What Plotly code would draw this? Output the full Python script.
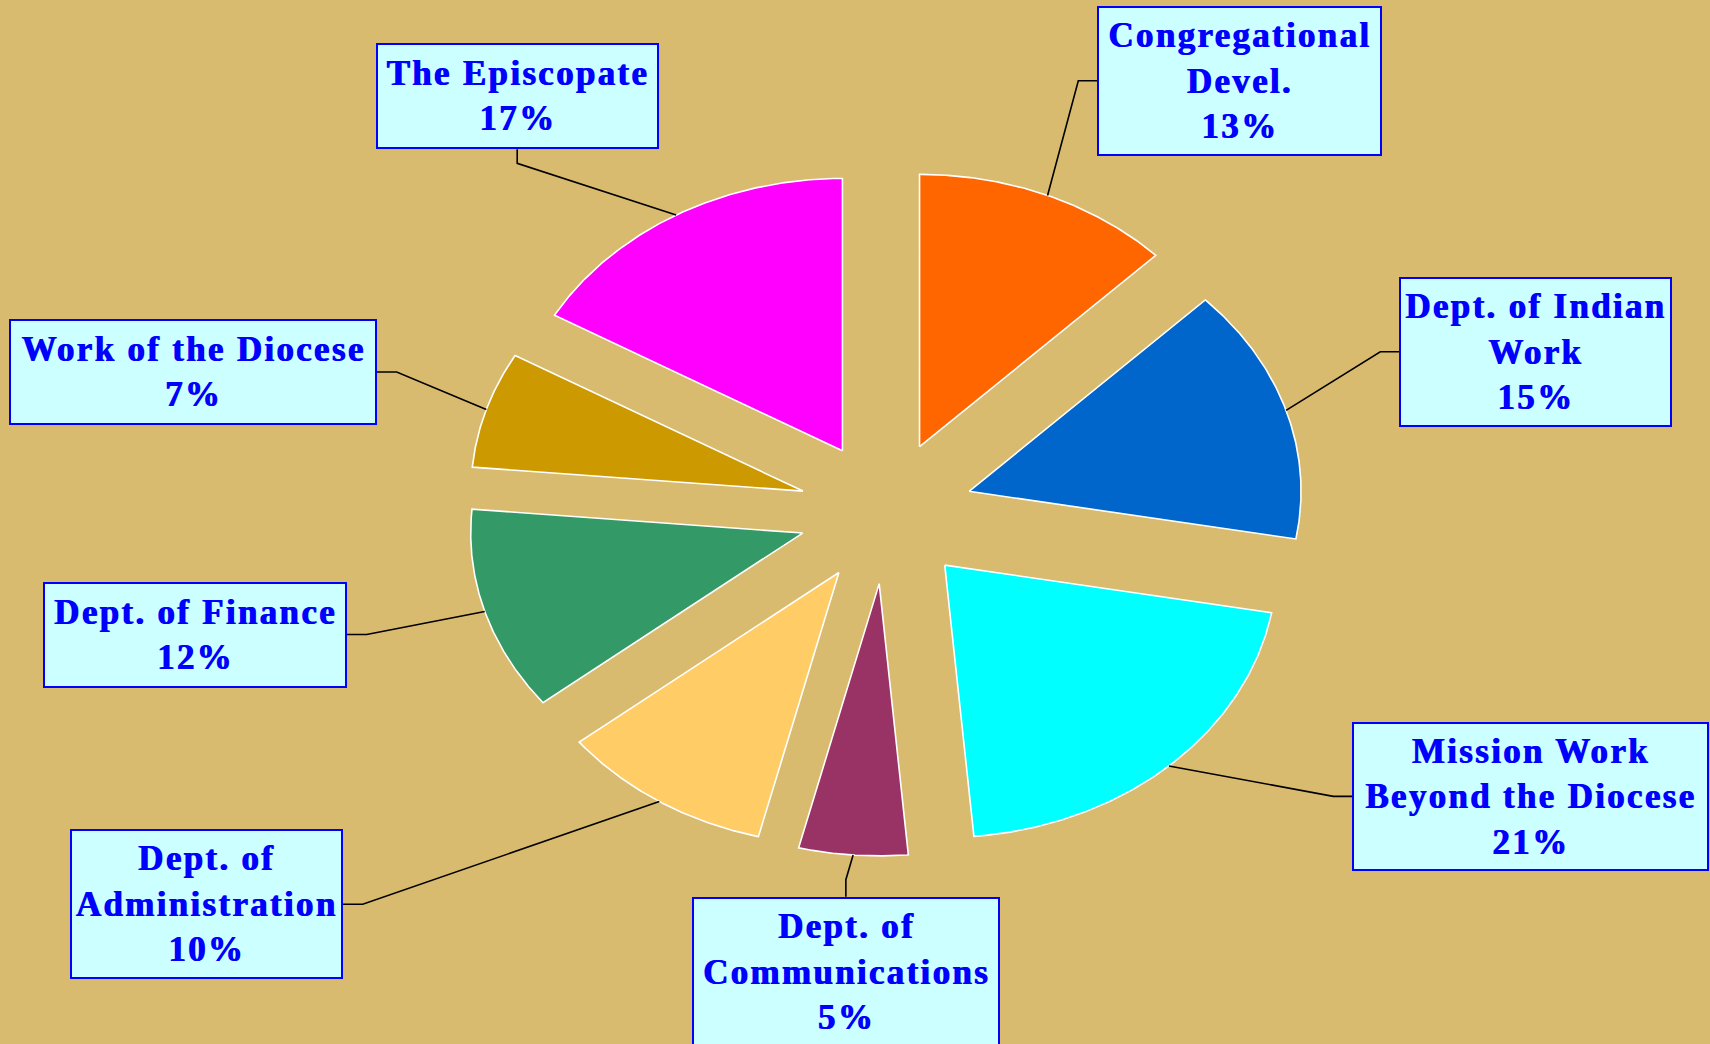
import numpy as np
import plotly.graph_objects as go

# ---------------- data ----------------
categories = [
    "Congregational Devel.",
    "Dept. of Indian Work",
    "Mission Work Beyond the Diocese",
    "Dept. of Communications",
    "Dept. of Administration",
    "Dept. of Finance",
    "Work of the Diocese",
    "The Episcopate",
]
values = [12.6, 15.2, 20.8, 5.3, 10.4, 12.1, 6.9, 16.7]
label_names = [
    "Congregational<br>Devel.",
    "Dept. of Indian<br>Work",
    "Mission Work<br>Beyond the Diocese",
    "Dept. of<br>Communications",
    "Dept. of<br>Administration",
    "Dept. of Finance",
    "Work of the Diocese",
    "The Episcopate",
]

# ---------------- styling / layout ----------------
colors = ["#FF6600", "#0066CC", "#00FFFF", "#993366",
          "#FFCC66", "#339966", "#CC9900", "#FF00FF"]
BG = "#D9BB6F"
W, H = 1710, 1044
CX, CY, RX, RY = 886.0, 512.5, 332.0, 272.3   # pie centre / radii in pixels
EXPLODE = 0.262                                # pull-out as fraction of radius

# label boxes (pixel x0, y0, x1, y1) and which side the leader leaves from
boxes = [
    ((1097.3, 5.7, 1382.3, 155.7), "left"),
    ((1399.3, 276.7, 1672.3, 426.7), "left"),
    ((1352.3, 721.7, 1709.3, 871.0), "left"),
    ((691.7, 896.7, 1000.0, 1046.7), "top"),
    ((70.0, 829.3, 342.7, 979.3), "right"),
    ((42.3, 581.7, 346.7, 687.3), "right"),
    ((8.3, 319.0, 376.7, 425.0), "right"),
    ((375.7, 43.3, 658.7, 149.3), "bottom"),
]


def px_to_data(px, py):
    return (px - CX) / RX, (CY - py) / RY


def spaced(text):
    return "<br>".join(
        f'<span style="letter-spacing:2.3px">{ln}</span>' for ln in text.split("<br>"))


fig = go.Figure()

total = float(sum(values))
cum = np.concatenate([[0.0], np.cumsum(values)]) / total * 360.0

annotations = []
for i, (cat, v) in enumerate(zip(categories, values)):
    a0, a1 = cum[i], cum[i + 1]
    mid = np.radians((a0 + a1) / 2.0)
    ox, oy = EXPLODE * np.sin(mid), EXPLODE * np.cos(mid)
    t = np.radians(np.linspace(a0, a1, 150))
    xs = np.concatenate([[ox], ox + np.sin(t), [ox]])
    ys = np.concatenate([[oy], oy + np.cos(t), [oy]])
    fig.add_trace(go.Scatter(
        x=xs, y=ys, mode="lines", fill="toself", fillcolor=colors[i],
        line=dict(color="white", width=1.6), hoverinfo="skip",
        showlegend=False, name=cat))

    # leader line
    (bx0, by0, bx1, by1), side = boxes[i]
    bcx, bcy = (bx0 + bx1) / 2, (by0 + by1) / 2
    if side == "left":
        p0, p1 = (bx0, bcy), (bx0 - 19, bcy)
    elif side == "right":
        p0, p1 = (bx1, bcy), (bx1 + 20, bcy)
    elif side == "top":
        p0, p1 = (bcx, by0), (bcx, by0 - 17)
    else:
        p0, p1 = (bcx, by1), (bcx, by1 + 14)
    d0 = px_to_data(*p0)
    d1 = px_to_data(*p1)
    rim = (ox + np.sin(mid), oy + np.cos(mid))
    fig.add_trace(go.Scatter(
        x=[d0[0], d1[0], rim[0]], y=[d0[1], d1[1], rim[1]], mode="lines",
        line=dict(color="black", width=1.6), hoverinfo="skip",
        showlegend=False))

    bw = 2
    annotations.append(dict(
        xref="paper", yref="paper", x=bcx / W, y=1 - bcy / H,
        xanchor="center", yanchor="middle", showarrow=False,
        text=spaced(f"{label_names[i]}<br>{round(v)}%"),
        width=(bx1 - bx0) - 2 * bw, height=(by1 - by0) - 2 * bw,
        borderpad=0, borderwidth=bw, bordercolor="#0000FF",
        bgcolor="#CCFFFF", align="center", valign="middle",
        font=dict(family="Liberation Serif, Times New Roman, serif",
                  size=35, color="#0000FF", weight="bold",
                  shadow="1px 0px 0px #0000FF"),
    ))

fig.update_layout(
    width=W, height=H, autosize=False,
    margin=dict(l=0, r=0, t=0, b=0),
    paper_bgcolor=BG, plot_bgcolor=BG,
    xaxis=dict(range=[(0 - CX) / RX, (W - CX) / RX], visible=False,
               fixedrange=True),
    yaxis=dict(range=[(CY - H) / RY, CY / RY], visible=False,
               fixedrange=True),
    annotations=annotations,
    showlegend=False,
)

fig.write_html(
    "out.html",
    config={"displayModeBar": False, "staticPlot": True},
    post_script="document.body.style.margin='0';document.body.style.overflow='hidden';",
)
